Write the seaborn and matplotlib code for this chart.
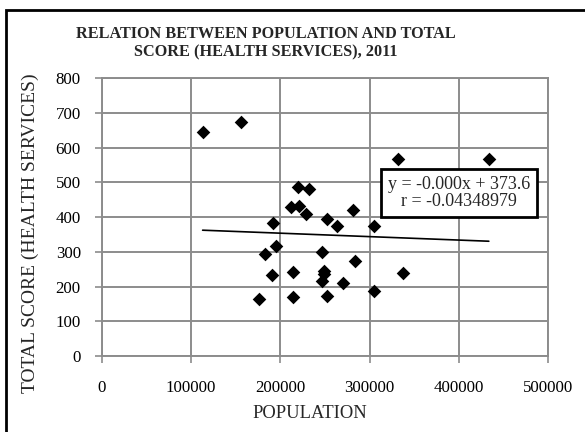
import matplotlib
matplotlib.use("Agg")
import numpy as np
import pandas as pd
import matplotlib.pyplot as plt
import seaborn as sns
from matplotlib.patches import Rectangle

# values
population = [113000, 156000, 219500, 232500, 212000, 221000, 229000, 192200,
              252600, 263800, 281700, 304900, 332100, 433400, 195200, 182900,
              246700, 283600, 190700, 213900, 248500, 248500, 246700, 269900,
              337400, 304900, 176100, 214200, 252600]
total_score = [645, 672, 486, 480, 429, 432, 408, 384,
               394, 375, 420, 373, 568, 567, 316, 294,
               299, 274, 232, 241, 244, 235, 215, 209,
               240, 187, 163, 171, 173]
x_ticks = [0, 100000, 200000, 300000, 400000, 500000]
y_ticks = [0, 100, 200, 300, 400, 500, 600, 700, 800]
eq_text = "y = -0.000x + 373.6\nr = -0.04348979"

df = pd.DataFrame({"POPULATION": population, "TOTAL SCORE": total_score})

sns.set_style("white")
plt.rcParams["font.family"] = ["Liberation Serif", "DejaVu Serif"]

fig = plt.figure(figsize=(5.85, 4.32), dpi=100)
ax = fig.add_axes([0.1738, 0.1759, 0.7635, 0.6435])

# 散点 + 线性趋势线
sns.scatterplot(data=df, x="POPULATION", y="TOTAL SCORE", marker="D", s=48,
                color="black", linewidth=0, ax=ax, zorder=3)
sns.regplot(data=df, x="POPULATION", y="TOTAL SCORE", scatter=False, ci=None,
            truncate=True, color="black", line_kws={"linewidth": 1.2}, ax=ax)

ax.set_xlim(0, 500000)
ax.set_ylim(0, 800)
ax.set_xticks(x_ticks)
ax.set_yticks(y_ticks)
ax.set_xticklabels([str(v) for v in x_ticks])
ax.set_yticklabels([str(v) for v in y_ticks])
ax.grid(True, color="#8c8c8c", linewidth=1.4)
for sp in ax.spines.values():
    sp.set_color("#8c8c8c")
    sp.set_linewidth(1.4)
ax.tick_params(axis="both", colors="#8c8c8c", labelcolor="black", labelsize=12.2,
               length=5, width=1.2, direction="out", bottom=True, left=True)
ax.tick_params(axis="x", pad=12)
ax.tick_params(axis="y", pad=10)
ax.set_xlabel("")
ax.set_ylabel("")

fig.text(310 / 585, 1 - 414 / 432, "POPULATION", ha="center", va="center", fontsize=13.3)
fig.text(30 / 585, 1 - 233 / 432, "TOTAL SCORE (HEALTH SERVICES)", ha="center", va="center",
         rotation=90, fontsize=14)
fig.text(266 / 585, 1 - 43 / 432,
         "RELATION BETWEEN POPULATION AND TOTAL\nSCORE (HEALTH SERVICES), 2011",
         ha="center", va="center", fontsize=11.7, fontweight="bold", linespacing=1.15)

ax.text(459 / 585, 1 - 193 / 432, eq_text, transform=fig.transFigure, ha="center",
        va="center", fontsize=13, linespacing=1.05, zorder=5,
        bbox=dict(boxstyle="square,pad=0.38", facecolor="white", edgecolor="black",
                  linewidth=2))

# 外框
fig.patches.append(Rectangle((6 / 585, -0.05), 1.1, 1 - 10 / 432 + 0.05,
                             transform=fig.transFigure, fill=False,
                             edgecolor="black", linewidth=2))

fig.savefig("out.png", dpi=100)
plt.close("all")
